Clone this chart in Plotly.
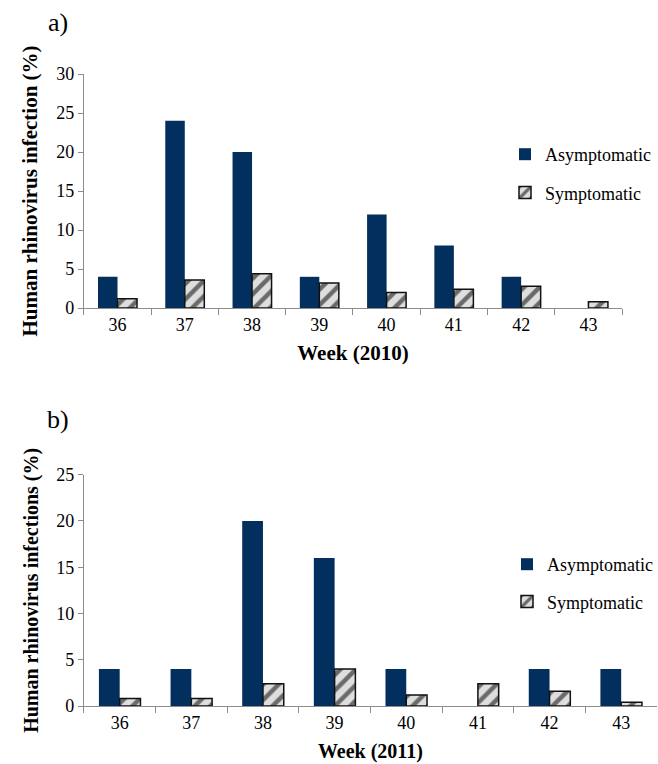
import plotly.graph_objects as go

weeks = ["36", "37", "38", "39", "40", "41", "42", "43"]
asym_2010 = [4, 24, 20, 4, 12, 8, 4, 0]
sym_2010 = [1.2, 3.6, 4.4, 3.2, 2.0, 2.4, 2.8, 0.8]
asym_2011 = [4, 4, 20, 16, 4, 0, 4, 4]
sym_2011 = [0.8, 0.8, 2.4, 4.0, 1.2, 2.4, 1.6, 0.4]

W, H = 658, 764
NAVY = "#022f5e"
FONT = "Liberation Serif"

def px(x):
    return x / W

def py(y):
    return 1 - y / H

sym_marker = dict(
    color="#cfcfcf",
    line=dict(color="#111111", width=1.5),
    pattern=dict(shape="/", fgcolor="#6a6a6a", bgcolor="#dedede", size=11, solidity=0.4),
)

fig = go.Figure()
fig.add_trace(go.Bar(x=weeks, y=asym_2010, name="Asymptomatic", marker=dict(color=NAVY, line=dict(width=0)),
                     xaxis="x", yaxis="y", legend="legend", legendgroup="a1"))
fig.add_trace(go.Bar(x=weeks, y=sym_2010, name="Symptomatic", marker=sym_marker,
                     xaxis="x", yaxis="y", legend="legend", legendgroup="s1"))
fig.add_trace(go.Bar(x=weeks, y=asym_2011, name="Asymptomatic", marker=dict(color=NAVY, line=dict(width=0)),
                     xaxis="x2", yaxis="y2", legend="legend2", legendgroup="a2"))
fig.add_trace(go.Bar(x=weeks, y=sym_2011, name="Symptomatic", marker=sym_marker,
                     xaxis="x2", yaxis="y2", legend="legend2", legendgroup="s2"))

axcol = "#8c8c8c"
common_x = dict(type="category", tickson="boundaries", ticks="outside", ticklen=6, tickcolor=axcol,
                showline=True, linecolor=axcol, linewidth=1, showgrid=False, zeroline=False,
                automargin=False,
                tickfont=dict(family=FONT, size=18, color="black"))
common_y = dict(ticks="outside", ticklen=5, tickcolor=axcol, showline=True, linecolor=axcol, linewidth=1,
                showgrid=False, zeroline=False, dtick=5, automargin=False,
                tickfont=dict(family=FONT, size=18, color="black"))

fig.update_layout(
    template="none",
    width=W, height=H,
    margin=dict(l=0, r=0, t=0, b=0),
    paper_bgcolor="white", plot_bgcolor="white",
    barmode="group", bargap=0.42, bargroupgap=0,
    font=dict(family=FONT, color="black"),
    xaxis=dict(domain=[px(84), px(623)], anchor="y",
               title=dict(text="<b>Week (2010)</b>", font=dict(family=FONT, size=21), standoff=11),
               **common_x),
    yaxis=dict(domain=[py(308), py(74)], anchor="x", range=[0, 30],
               title=dict(text="<b>Human rhinovirus infection (%)</b>", font=dict(family=FONT, size=21), standoff=12),
               **common_y),
    xaxis2=dict(domain=[px(84), 1.0], anchor="y2",
                title=dict(text="<b>Week (2011)</b>", font=dict(family=FONT, size=20), standoff=12),
                **common_x),
    yaxis2=dict(domain=[py(706), py(474.7)], anchor="x2", range=[0, 25],
                title=dict(text="<b>Human rhinovirus infections (%)</b>", font=dict(family=FONT, size=20), standoff=12),
                **common_y),
    legend=dict(x=px(505), y=py(136), xanchor="left", yanchor="top", traceorder="grouped",
                tracegroupgap=12, bgcolor="rgba(0,0,0,0)",
                font=dict(family=FONT, size=18, color="black")),
    legend2=dict(x=px(508), y=py(546), xanchor="left", yanchor="top", traceorder="grouped",
                 tracegroupgap=11, bgcolor="rgba(0,0,0,0)",
                 font=dict(family=FONT, size=18, color="black")),
    annotations=[
        dict(text="a)", x=px(46), y=py(23), xref="paper", yref="paper", xanchor="left", yanchor="middle",
             showarrow=False, font=dict(family=FONT, size=26, color="black")),
        dict(text="b)", x=px(45), y=py(419), xref="paper", yref="paper", xanchor="left", yanchor="middle",
             showarrow=False, font=dict(family=FONT, size=26, color="black")),
    ],
)

fig.write_html(
    "out.html",
    config={"displayModeBar": False},
    post_script="document.body.style.margin='0';document.body.style.padding='0';document.body.style.overflow='hidden';",
)
